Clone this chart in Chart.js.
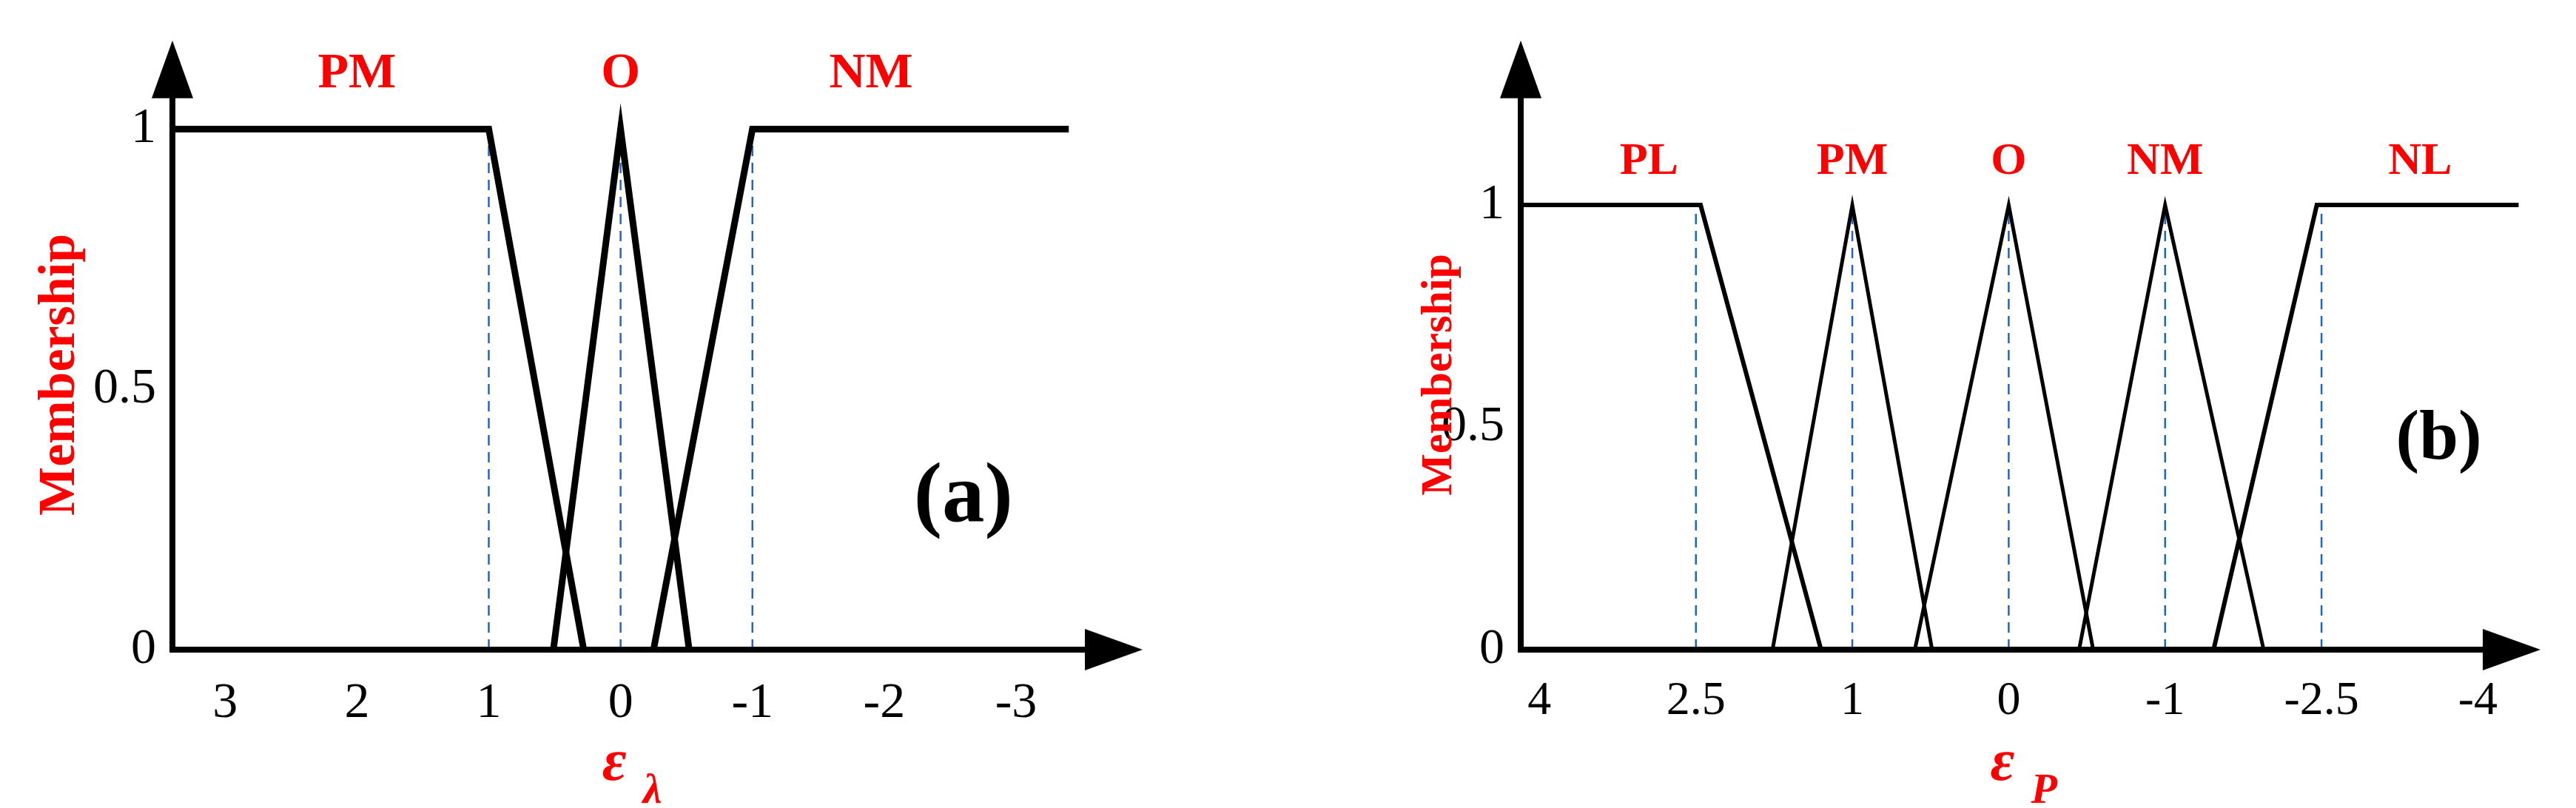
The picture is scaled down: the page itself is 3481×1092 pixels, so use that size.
<!DOCTYPE html>
<html><head><meta charset="utf-8">
<script src="https://cdn.jsdelivr.net/npm/chart.js@4/dist/chart.umd.min.js"></script>
<style>body{margin:0;background:#fff;width:3481px;height:1092px;position:relative;overflow:hidden}
canvas{position:absolute;top:0}</style></head><body>
<canvas id="ca" width="1600" height="1092" style="left:0"></canvas>
<canvas id="cb" width="1681" height="1092" style="left:1800px"></canvas>
<script>
// chart (a): x in epsilon_lambda units (axis reversed)
var aTicks = [3, 2, 1, 0, -1, -2, -3];
var aPM = [{x: 3.4, y: 1}, {x: 1, y: 1}, {x: 0.28, y: 0}];
var aO = [{x: 0.51, y: 0}, {x: 0, y: 1}, {x: -0.52, y: 0}];
var aNM = [{x: -0.25, y: 0}, {x: -1, y: 1}, {x: -3.4, y: 1}];
var aDashX = [1, 0, -1];
var aLabels = [['PM', 2, 1.08], ['O', 0, 1.08], ['NM', -1.9, 1.08]];

// chart (b): x in tick-position units, tick labels below
var bTickLabels = ['4', '2.5', '1', '0', '-1', '-2.5', '-4'];
var bPL = [{x: -0.12, y: 1}, {x: 1.03, y: 1}, {x: 1.8, y: 0}];
var bPM = [{x: 1.49, y: 0}, {x: 2, y: 1}, {x: 2.51, y: 0}];
var bO = [{x: 2.4, y: 0}, {x: 3, y: 1}, {x: 3.54, y: 0}];
var bNM = [{x: 3.45, y: 0}, {x: 4, y: 1}, {x: 4.63, y: 0}];
var bNL = [{x: 4.31, y: 0}, {x: 4.97, y: 1}, {x: 6.26, y: 1}];
var bDashX = [1, 2, 3, 4, 5];
var bLabels = [['PL', 0.7, 1.07], ['PM', 2, 1.07], ['O', 3, 1.07], ['NM', 4, 1.07], ['NL', 5.63, 1.07]];

var SERIF = '"Liberation Serif", "DejaVu Serif", serif';

function line(data, w) {
    return {data: data, borderColor: '#000', borderWidth: w, pointRadius: 0, fill: false, tension: 0};
}
function dashes(xs) {
    return xs.map(function(x) {
        return {data: [{x: x, y: 0}, {x: x, y: 1}], borderColor: '#1f66c4', borderWidth: 2.5,
            borderDash: [14, 9], pointRadius: 0, fill: false};
    });
}

var decor = {
    id: 'decor',
    afterDatasetsDraw: function(chart, args, o) {
        var ctx = chart.ctx, a = chart.chartArea, xs = chart.scales.x, ys = chart.scales.y;
        var y0 = ys.getPixelForValue(0);
        ctx.save();
        ctx.strokeStyle = '#000'; ctx.fillStyle = '#000'; ctx.lineWidth = 8;
        ctx.beginPath();
        ctx.moveTo(a.left, a.top + 60); ctx.lineTo(a.left, y0);
        ctx.lineTo(a.right - 60, y0); ctx.stroke();
        // arrows
        ctx.beginPath();
        ctx.moveTo(a.left, a.top); ctx.lineTo(a.left - 28, a.top + 78); ctx.lineTo(a.left + 28, a.top + 78);
        ctx.closePath(); ctx.fill();
        ctx.beginPath();
        ctx.moveTo(a.right, y0); ctx.lineTo(a.right - 78, y0 - 28); ctx.lineTo(a.right - 78, y0 + 28);
        ctx.closePath(); ctx.fill();
        // set labels
        ctx.fillStyle = '#f00'; ctx.textAlign = 'center'; ctx.textBaseline = 'alphabetic';
        ctx.font = 'bold ' + o.lab + 'px ' + SERIF;
        o.labels.forEach(function(l) {
            ctx.fillText(l[0], xs.getPixelForValue(l[1]), ys.getPixelForValue(l[2]));
        });
        // panel tag
        ctx.fillStyle = '#000'; ctx.textBaseline = 'middle';
        ctx.font = 'bold ' + o.tagSize + 'px ' + SERIF;
        ctx.fillText(o.tag, xs.getPixelForValue(o.tagX), ys.getPixelForValue(o.tagY));
        // y title
        ctx.save();
        ctx.translate(o.ytX, (a.top + y0) / 2 + 40); ctx.rotate(-Math.PI / 2);
        ctx.fillStyle = '#f00'; ctx.font = 'bold ' + o.ytSize + 'px ' + SERIF;
        ctx.fillText('Membership', 0, 0);
        ctx.restore();
        // x title
        var cx = xs.getPixelForValue(o.xtX);
        ctx.fillStyle = '#f00'; ctx.textAlign = 'right';
        ctx.font = 'italic bold 80px ' + SERIF;
        ctx.fillText('\u03b5', cx + 8, y0 + 155);
        ctx.textAlign = 'left';
        ctx.font = 'italic bold 58px ' + SERIF;
        ctx.fillText(o.sub, cx + 30, y0 + 192);
        ctx.restore();
    }
};

function make(id, datasets, xOpts, yMax, pad, yW, plug) {
    return new Chart(document.getElementById(id), {
        type: 'line',
        data: {datasets: datasets},
        options: {
            responsive: false, animation: false,
            layout: {padding: pad},
            plugins: {legend: {display: false}, tooltip: {enabled: false}, decor: plug},
            scales: {
                x: Object.assign({type: 'linear', grid: {display: false}, border: {display: false},
                    afterFit: function(s) { s.height = 214; }}, xOpts),
                y: {type: 'linear', min: 0, max: yMax, grid: {display: false}, border: {display: false},
                    afterFit: function(s) { s.width = yW; },
                    afterBuildTicks: function(s) { s.ticks = [{value: 0}, {value: 0.5}, {value: 1}]; },
                    ticks: {color: '#000', padding: 14, font: {family: SERIF, size: 68},
                        callback: function(v) { return String(v); }}}
            }
        },
        plugins: [decor]
    });
}

make('ca',
    [line(aPM, 9), line(aO, 9), line(aNM, 9)].concat(dashes(aDashX)),
    {min: -3.96, max: 3.4, reverse: true,
     afterBuildTicks: function(s) { s.ticks = aTicks.map(function(v) { return {value: v}; }); },
     ticks: {color: '#000', padding: 24, font: {family: SERIF, size: 68}, maxRotation: 0, autoSkip: false}},
    1.17, {top: 33, right: 56, left: 0, bottom: 0}, 233,
    {labels: aLabels, lab: 68, tag: '(a)', tagSize: 115, tagX: -2.6, tagY: 0.29,
     ytX: 82, ytSize: 70, xtX: 0, sub: '\u03bb'});

make('cb',
    [line(bPL, 6), line(bPM, 5), line(bO, 5), line(bNM, 5), line(bNL, 6)].concat(dashes(bDashX)),
    {min: -0.12, max: 6.4,
     afterBuildTicks: function(s) { s.ticks = bTickLabels.map(function(t, i) { return {value: i}; }); },
     ticks: {color: '#000', padding: 24, font: {family: SERIF, size: 64}, maxRotation: 0, autoSkip: false,
        callback: function(v) { return bTickLabels[v]; }}},
    1.37, {top: 33, right: 48, left: 0, bottom: 0}, 255,
    {labels: bLabels, lab: 62, tag: '(b)', tagSize: 95, tagX: 5.75, tagY: 0.47,
     ytX: 145, ytSize: 60, xtX: 3, sub: 'P'});
</script></body></html>
